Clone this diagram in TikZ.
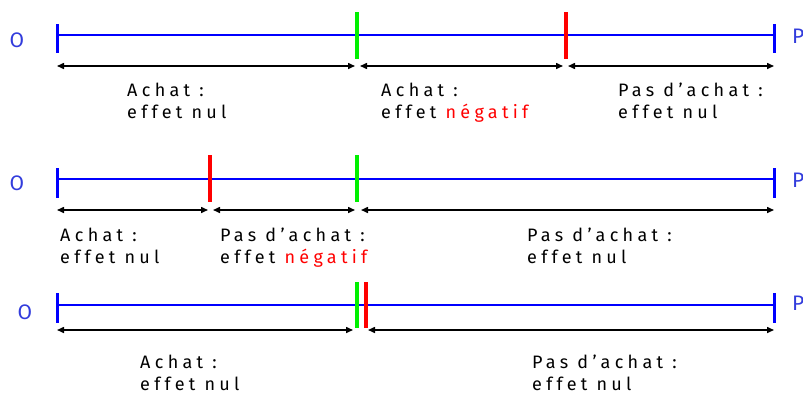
\documentclass[tikz,border=0pt]{standalone}
\usepackage{fontspec}
\setmainfont{Fira Sans}[LetterSpace=24]
\usetikzlibrary{arrows.meta}
\definecolor{axisblue}{RGB}{0,0,255}
\definecolor{lblblue}{RGB}{50,60,220}
\definecolor{gbar}{RGB}{0,240,0}
\definecolor{rbar}{RGB}{255,0,0}
\tikzset{
  axis/.style={draw=axisblue, line width=1.2pt},
  endtick/.style={draw=axisblue, line width=3pt},
  greenbar/.style={draw=gbar, line width=4pt},
  redbar/.style={draw=rbar, line width=4pt},
  span/.style={draw=black, line width=1.5pt, {Triangle[length=7pt,width=6pt]}-{Triangle[length=7pt,width=6pt]}},
  lbl/.style={anchor=north west, inner sep=0pt, align=left, font=\fontsize{18}{22}\selectfont},
  endlbl/.style={inner sep=0pt, text=lblblue, font=\fontsize{21}{21}\selectfont\addfontfeature{LetterSpace=0}},
}
\begin{document}
\begin{tikzpicture}[x=1pt,y=-1pt]
\useasboundingbox (0,0) rectangle (803,397);
% ---------- Row 1 ----------
\coordinate (a1) at (57,35); \coordinate (p1) at (774,35);
\draw[axis] (a1) -- (p1);
\draw[endtick] (57,24) -- (57,53);
\draw[endtick] (774,24) -- (774,53);
\draw[greenbar] (357,12) -- (357,59);
\draw[redbar] (566,12) -- (566,59);
\node[endlbl] (o1) at (17,40) {O};
\node[endlbl, anchor=west] (pp1) at (792,36) {P};
\coordinate (s1a) at (57,66); \coordinate (s1b) at (355,66);
\coordinate (s1c) at (360,66); \coordinate (s1d) at (563,66);
\coordinate (s1e) at (568,66); \coordinate (s1f) at (774,66);
\draw[span] (s1a) -- (s1b);
\draw[span] (s1c) -- (s1d);
\draw[span] (s1e) -- (s1f);
\node[lbl] (t11) at (127,83) {Achat :\\effet nul};
\node[lbl] (t12) at (381,83) {Achat :\\effet \textcolor{rbar}{négatif}};
\node[lbl] (t13) at (618,83) {Pas d’achat :\\effet nul};
% ---------- Row 2 ----------
\coordinate (a2) at (57,179); \coordinate (p2) at (774,179);
\draw[axis] (a2) -- (p2);
\draw[endtick] (57,168) -- (57,198);
\draw[endtick] (774,168) -- (774,198);
\draw[redbar] (210,155) -- (210,202);
\draw[greenbar] (357,155) -- (357,202);
\node[endlbl] (o2) at (17,183) {O};
\node[endlbl, anchor=west] (pp2) at (792,180) {P};
\coordinate (s2a) at (57,210); \coordinate (s2b) at (208,210);
\coordinate (s2c) at (213,210); \coordinate (s2d) at (355,210);
\coordinate (s2e) at (361,210); \coordinate (s2f) at (774,210);
\draw[span] (s2a) -- (s2b);
\draw[span] (s2c) -- (s2d);
\draw[span] (s2e) -- (s2f);
\node[lbl] (t21) at (60,228) {Achat :\\effet nul};
\node[lbl] (t22) at (220,228) {Pas d’achat :\\effet \textcolor{rbar}{négatif}};
\node[lbl] (t23) at (527,228) {Pas d’achat :\\effet nul};
% ---------- Row 3 ----------
\coordinate (a3) at (57,305); \coordinate (p3) at (774,305);
\draw[axis] (a3) -- (p3);
\draw[endtick] (57,293) -- (57,323);
\draw[endtick] (774,293) -- (774,323);
\draw[greenbar] (357,282) -- (357,328);
\draw[redbar] (366,282) -- (366,328);
\node[endlbl] (o3) at (25,312) {O};
\node[endlbl, anchor=west] (pp3) at (792,303) {P};
\coordinate (s3a) at (57,330); \coordinate (s3b) at (353,330);
\coordinate (s3c) at (368,330); \coordinate (s3d) at (774,330);
\draw[span] (s3a) -- (s3b);
\draw[span] (s3c) -- (s3d);
\node[lbl] (t31) at (140,355) {Achat :\\effet nul};
\node[lbl] (t32) at (532,355) {Pas d’achat :\\effet nul};
\end{tikzpicture}
\end{document}
